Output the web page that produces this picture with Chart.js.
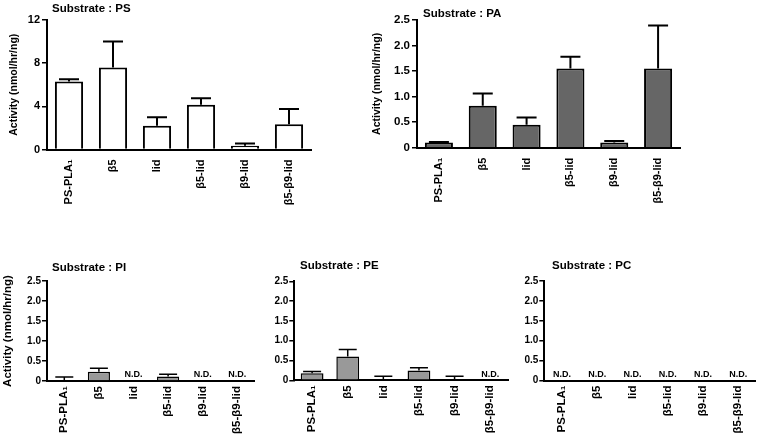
<!DOCTYPE html>
<html>
<head>
<meta charset="utf-8">
<script src="https://cdn.jsdelivr.net/npm/chart.js@4"></script>
<style>
  body { margin: 0; background: #fff; }
  #wrap { position: relative; width: 757px; height: 435px; overflow: hidden; }
  canvas { position: absolute; }
</style>
</head>
<body>
<div id="wrap">
  <canvas id="psChart" width="322" height="215" style="left:0;top:0"></canvas>
  <canvas id="paChart" width="330" height="215" style="left:360px;top:0"></canvas>
  <canvas id="piChart" width="265" height="215" style="left:0;top:220px"></canvas>
  <canvas id="peChart" width="265" height="215" style="left:250px;top:220px"></canvas>
  <canvas id="pcChart" width="257" height="215" style="left:500px;top:220px"></canvas>
</div>
<script>
const categories = ['PS-PLA₁', 'β5', 'lid', 'β5-lid', 'β9-lid', 'β5-β9-lid'];

// bar heights and the upper error (SEM) of each bar; null = N.D.
const psValues = [6.3, 7.6, 2.2, 4.15, 0.35, 2.35];
const psErrors = [0.2, 2.4, 0.8, 0.6, 0.2, 1.4];
const paValues = [0.1, 0.82, 0.45, 1.55, 0.1, 1.55];
const paErrors = [0.01, 0.24, 0.14, 0.23, 0.03, 0.84];
const piValues = [0, 0.23, null, 0.11, null, null];
const piErrors = [0.1, 0.09, null, 0.06, null, null];
const peValues = [0.18, 0.6, 0, 0.25, 0, null];
const peErrors = [0.04, 0.18, 0.1, 0.07, 0.1, null];
const pcValues = [null, null, null, null, null, null];
const pcErrors = [null, null, null, null, null, null];

const psTicks = [0, 4, 8, 12];
const lowTicks = [0, 0.5, 1.0, 1.5, 2.0, 2.5];

const FONT = "'Liberation Sans', Arial, sans-serif";

const errorBars = {
  id: 'errorBars',
  afterDatasetsDraw(chart, args, opts) {
    const ctx = chart.ctx;
    const meta = chart.getDatasetMeta(0);
    const xs = chart.scales.x;
    const ys = chart.scales.y;
    const vals = chart.data.datasets[0].data;
    ctx.save();
    ctx.strokeStyle = '#000';
    ctx.lineWidth = opts.lineWidth;
    vals.forEach((v, i) => {
      const e = opts.errors[i];
      const x = xs.getPixelForValue(i);
      if (v === null) {
        ctx.fillStyle = '#000';
        ctx.font = 'bold 9px ' + FONT;
        ctx.textAlign = 'center';
        ctx.textBaseline = 'middle';
        ctx.fillText('N.D.', x, ys.getPixelForValue(0) - 6);
        return;
      }
      if (e === null) return;
      const y0 = ys.getPixelForValue(v);
      const y1 = ys.getPixelForValue(v + e);
      ctx.beginPath();
      ctx.moveTo(x, y0);
      ctx.lineTo(x, y1);
      ctx.moveTo(x - opts.cap / 2, y1);
      ctx.lineTo(x + opts.cap / 2, y1);
      ctx.stroke();
    });
    ctx.restore();
  }
};

const panelTitle = {
  id: 'panelTitle',
  afterDraw(chart, args, opts) {
    const ctx = chart.ctx;
    ctx.save();
    ctx.fillStyle = '#000';
    ctx.font = 'bold 11.5px ' + FONT;
    ctx.textAlign = 'left';
    ctx.textBaseline = 'middle';
    ctx.fillText(opts.text, opts.x, opts.y);
    ctx.restore();
  }
};

function makePanel(id, p) {
  const canvas = document.getElementById(id);
  return new Chart(canvas, {
    type: 'bar',
    data: {
      labels: categories,
      datasets: [{
        data: p.values,
        backgroundColor: p.fill,
        borderColor: '#000',
        borderWidth: p.line,
        borderSkipped: 'start',
        barPercentage: 0.8,
        categoryPercentage: 0.8
      }]
    },
    options: {
      responsive: false,
      animation: false,
      devicePixelRatio: 1,
      layout: { padding: { top: p.top, right: canvas.width - p.right, bottom: 0, left: 0 } },
      plugins: {
        legend: { display: false },
        tooltip: { enabled: false },
        errorBars: { errors: p.errors, cap: p.cap, lineWidth: p.line },
        panelTitle: { text: p.title, x: p.titleX, y: p.titleY }
      },
      scales: {
        x: {
          grid: { display: false, drawTicks: false },
          border: { display: true, color: '#000', width: 2 },
          ticks: {
            autoSkip: false,
            minRotation: 90,
            maxRotation: 90,
            padding: p.labelGap,
            color: '#000',
            font: { family: FONT, size: p.labelSize, weight: 'bold' }
          },
          afterFit(scale) { scale.height = canvas.height - p.bottom; }
        },
        y: {
          min: 0,
          max: p.ticks[p.ticks.length - 1],
          afterBuildTicks(scale) { scale.ticks = p.ticks.map(v => ({ value: v })); },
          grid: { display: true, drawOnChartArea: false, drawTicks: true, tickLength: 5, color: '#000', lineWidth: 1.5 },
          border: { display: true, color: '#000', width: 2 },
          ticks: {
            padding: p.tickGap,
            color: '#000',
            font: { family: FONT, size: p.tickSize, weight: 'bold' },
            callback: p.fmt
          },
          title: {
            display: !!p.yTitle,
            text: 'Activity (nmol/hr/ng)',
            color: '#000',
            font: { family: FONT, size: p.yTitleSize, weight: 'bold' },
            padding: { top: p.yTitlePad, bottom: 0 }
          },
          afterFit(scale) { scale.width = p.left; }
        }
      }
    },
    plugins: [errorBars, panelTitle]
  });
}

const intFmt = v => String(v);
const decFmt = v => (v === 0 ? '0' : v.toFixed(1));

makePanel('psChart', {
  title: 'Substrate : PS', titleX: 52, titleY: 9,
  values: psValues, errors: psErrors, ticks: psTicks, fmt: intFmt,
  fill: '#ffffff', line: 2, cap: 20,
  left: 47, right: 311, top: 20, bottom: 149.5,
  labelGap: 10, labelSize: 11, tickGap: 2, tickSize: 11,
  yTitle: true, yTitleSize: 10.5, yTitlePad: 7.7
});

makePanel('paChart', {
  title: 'Substrate : PA', titleX: 63, titleY: 14,
  values: paValues, errors: paErrors, ticks: lowTicks, fmt: decFmt,
  fill: '#666666', line: 2, cap: 20,
  left: 57, right: 320, top: 20, bottom: 147.7,
  labelGap: 10, labelSize: 11, tickGap: 2, tickSize: 11.5,
  yTitle: true, yTitleSize: 10.5, yTitlePad: 10.7
});

makePanel('piChart', {
  title: 'Substrate : PI', titleX: 52, titleY: 48,
  values: piValues, errors: piErrors, ticks: lowTicks, fmt: decFmt,
  fill: '#999999', line: 1.5, cap: 18,
  left: 47, right: 254.6, top: 61, bottom: 161,
  labelGap: 5, labelSize: 11.5, tickGap: 1, tickSize: 10,
  yTitle: true, yTitleSize: 11.5, yTitlePad: 1
});

makePanel('peChart', {
  title: 'Substrate : PE', titleX: 50, titleY: 46,
  values: peValues, errors: peErrors, ticks: lowTicks, fmt: decFmt,
  fill: '#999999', line: 1.5, cap: 18,
  left: 44.3, right: 258, top: 61.3, bottom: 160.3,
  labelGap: 5, labelSize: 11.5, tickGap: 1, tickSize: 10,
  yTitle: false
});

makePanel('pcChart', {
  title: 'Substrate : PC', titleX: 52, titleY: 46,
  values: pcValues, errors: pcErrors, ticks: lowTicks, fmt: decFmt,
  fill: '#999999', line: 1.5, cap: 18,
  left: 44.3, right: 257, top: 61, bottom: 160.5,
  labelGap: 5, labelSize: 11.5, tickGap: 1, tickSize: 10,
  yTitle: false
});
</script>
</body>
</html>
